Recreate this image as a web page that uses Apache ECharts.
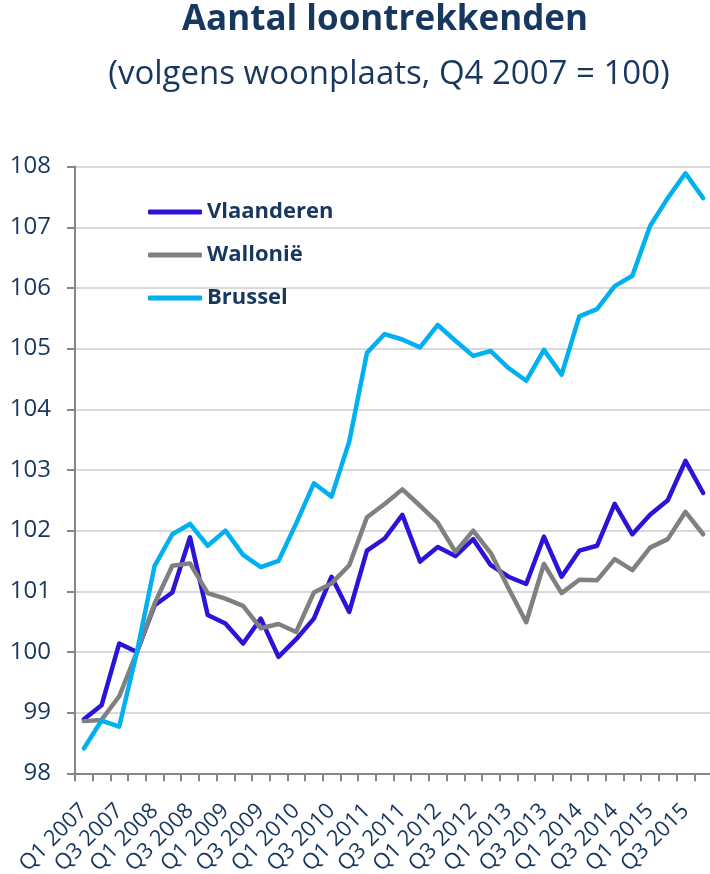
<!DOCTYPE html>
<html>
<head>
<meta charset="utf-8">
<script src="https://cdn.jsdelivr.net/npm/echarts@6/dist/echarts.min.js"></script>
<style>
  html, body { margin: 0; padding: 0; background: #ffffff; }
  #chart { width: 710px; height: 874px; }
</style>
</head>
<body>
<div id="chart"></div>
<script>
const categories = [
  'Q1 2007','Q2 2007','Q3 2007','Q4 2007',
  'Q1 2008','Q2 2008','Q3 2008','Q4 2008',
  'Q1 2009','Q2 2009','Q3 2009','Q4 2009',
  'Q1 2010','Q2 2010','Q3 2010','Q4 2010',
  'Q1 2011','Q2 2011','Q3 2011','Q4 2011',
  'Q1 2012','Q2 2012','Q3 2012','Q4 2012',
  'Q1 2013','Q2 2013','Q3 2013','Q4 2013',
  'Q1 2014','Q2 2014','Q3 2014','Q4 2014',
  'Q1 2015','Q2 2015','Q3 2015','Q4 2015'
];
const vlaanderen = [
  98.89, 99.12, 100.14, 100.00, 100.77, 100.98, 101.89, 100.61, 100.47, 100.14, 100.55, 99.92,
  100.21, 100.55, 101.24, 100.66, 101.67, 101.87, 102.26, 101.49, 101.73, 101.58, 101.86, 101.43,
  101.24, 101.12, 101.90, 101.24, 101.67, 101.75, 102.44, 101.94, 102.26, 102.50, 103.15, 102.62
];
const wallonie = [
  98.86, 98.88, 99.27, 100.00, 100.80, 101.42, 101.46, 100.97, 100.88, 100.76, 100.39, 100.46,
  100.33, 100.98, 101.13, 101.43, 102.22, 102.44, 102.68, 102.41, 102.13, 101.65, 102.00, 101.63,
  101.05, 100.49, 101.45, 100.97, 101.19, 101.18, 101.53, 101.35, 101.72, 101.86, 102.31, 101.94
];
const brussel = [
  98.41, 98.87, 98.77, 100.00, 101.42, 101.94, 102.11, 101.75, 102.00, 101.60, 101.40, 101.50,
  102.12, 102.78, 102.56, 103.47, 104.93, 105.24, 105.15, 105.02, 105.39, 105.13, 104.88, 104.96,
  104.68, 104.47, 104.98, 104.57, 105.53, 105.65, 106.03, 106.20, 107.02, 107.48, 107.89, 107.48
];
const seriesNames = ['Vlaanderen', 'Wallonië', 'Brussel'];
const titleText = 'Aantal loontrekkenden';
const subtitleText = '(volgens woonplaats, Q4 2007 = 100)';

const navy = '#17375E';
const axisGray = '#868686';
const font = '"Open Sans", "Liberation Sans", sans-serif';

const chart = echarts.init(document.getElementById('chart'), null, { renderer: 'canvas' });
const colors = ['#2B14D8', '#808080', '#00B0F0'];
const seriesData = [vlaanderen, wallonie, brussel];

chart.setOption({
  backgroundColor: '#ffffff',
  animation: false,
  title: [
    {
      text: titleText,
      left: 385, top: 3, textAlign: 'center', padding: 0,
      textStyle: { fontFamily: font, fontWeight: 'bold', fontSize: 35, color: navy }
    },
    {
      text: subtitleText,
      left: 389, top: 58, textAlign: 'center', padding: 0,
      textStyle: { fontFamily: font, fontWeight: 'normal', fontSize: 33, color: navy }
    }
  ],
  legend: {
    orient: 'vertical',
    left: 148, top: 201,
    padding: 0,
    itemWidth: 54, itemHeight: 5,
    itemGap: 21,
    icon: 'roundRect',
    data: seriesNames,
    textStyle: { fontFamily: font, fontWeight: 'bold', fontSize: 22, color: navy, lineHeight: 22 }
  },
  grid: {
    left: 75, right: -2, top: 166.6, bottom: 100.7,
    containLabel: false, outerBoundsMode: 'none'
  },
  xAxis: {
    type: 'category',
    data: categories,
    boundaryGap: true,
    axisLine: { lineStyle: { color: axisGray, width: 2 } },
    axisTick: { show: true, interval: 0, length: 8, lineStyle: { color: axisGray, width: 2 } },
    axisLabel: {
      interval: 1, rotate: 45, margin: 34,
      fontFamily: font, fontSize: 22, color: navy
    },
    splitLine: { show: false }
  },
  yAxis: {
    type: 'value',
    min: 98, max: 108, interval: 1,
    axisLine: { show: true, lineStyle: { color: axisGray, width: 2 } },
    axisTick: { show: true, length: 8, lineStyle: { color: axisGray, width: 2 } },
    axisLabel: { margin: 24, fontFamily: font, fontSize: 24, color: navy },
    splitLine: { show: true, lineStyle: { color: '#D9D9D9', width: 2 } }
  },
  series: seriesNames.map((name, i) => ({
    name: name,
    type: 'line',
    data: seriesData[i],
    symbol: 'none',
    smooth: false,
    color: colors[i],
    lineStyle: { width: 4.5, color: colors[i], cap: 'round', join: 'round' },
    z: 2 + i
  }))
});
</script>
</body>
</html>
